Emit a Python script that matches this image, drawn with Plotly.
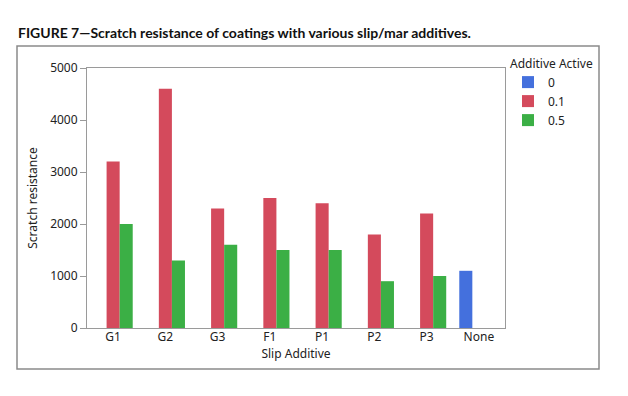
import plotly.graph_objects as go

categories = ["G1", "G2", "G3", "F1", "P1", "P2", "P3", "None"]
series_names = ["0", "0.1", "0.5"]
values_0 = [None, None, None, None, None, None, None, 1100]
values_01 = [3200, 4600, 2300, 2500, 2400, 1800, 2200, None]
values_05 = [2000, 1300, 1600, 1500, 1500, 900, 1000, None]
y_ticks = [0, 1000, 2000, 3000, 4000, 5000]
colors = ["#4470DD", "#D44A5C", "#3BAF45"]

W, H = 628, 396
OFF = 8  # page body margin; positions below are in window pixels
L, R, T, B = 87 - OFF, 505 - OFF, 68 - OFF, 328 - OFF  # plot area in figure pixels
pw, ph = R - L, B - T

def px_x(x):
    return (x - OFF - L) / pw

def px_y(y):
    return (B - (y - OFF)) / ph

fig = go.Figure()
for name, vals, col in zip(series_names, [values_0, values_01, values_05], colors):
    fig.add_trace(go.Bar(x=categories, y=vals, name=name, marker=dict(color=col, line=dict(width=0))))

font = "Noto Sans, Open Sans, DejaVu Sans, sans-serif"
axis_col = "#9a9a9a"

fig.update_layout(
    width=W, height=H,
    margin=dict(l=L, r=W - R, t=T, b=H - B),
    paper_bgcolor="white", plot_bgcolor="white",
    barmode="group", bargap=0.25, bargroupgap=0,
    font=dict(family=font, size=12, color="#222"),
    showlegend=True,
    legend=dict(
        title=dict(text="Additive Active", font=dict(size=12, color="#222")),
        x=px_x(508), y=px_y(52), xanchor="left", yanchor="top",
        font=dict(size=12, color="#222"),
        bgcolor="rgba(0,0,0,0)", itemwidth=30, tracegroupgap=0,
    ),
    xaxis=dict(
        type="category", range=[-0.5, 7.5],
        showline=True, linecolor=axis_col, linewidth=1, mirror=True,
        ticks="", showgrid=False, ticklabelstandoff=-2,
        tickfont=dict(size=12, color="#222"),
        title=dict(text="Slip Additive", font=dict(size=12, color="#222"), standoff=0),
    ),
    yaxis=dict(
        range=[0, 5000], tickvals=y_ticks, ticktext=[str(v) for v in y_ticks],
        showline=True, linecolor=axis_col, linewidth=1, mirror=True,
        ticks="outside", ticklen=6, tickcolor=axis_col,
        showgrid=False, zeroline=False,
        tickfont=dict(size=12, color="#222"),
        title=dict(text="Scratch resistance", font=dict(size=12, color="#222"), standoff=9),
    ),
    shapes=[dict(
        type="rect", xref="paper", yref="paper",
        x0=px_x(17), x1=px_x(599), y0=px_y(369), y1=px_y(46),
        line=dict(color="#8a8a8a", width=1.5), fillcolor="rgba(0,0,0,0)", layer="below",
    )],
    annotations=[dict(
        text="<b>FIGURE 7\u2014Scratch resistance of coatings with various slip/mar additives.</b>",
        xref="paper", yref="paper", x=px_x(16), y=px_y(32),
        xanchor="left", yanchor="middle", showarrow=False,
        font=dict(family="Lato, sans-serif", size=14, color="#111"),
    )],
)

fig.write_html("out.html")
